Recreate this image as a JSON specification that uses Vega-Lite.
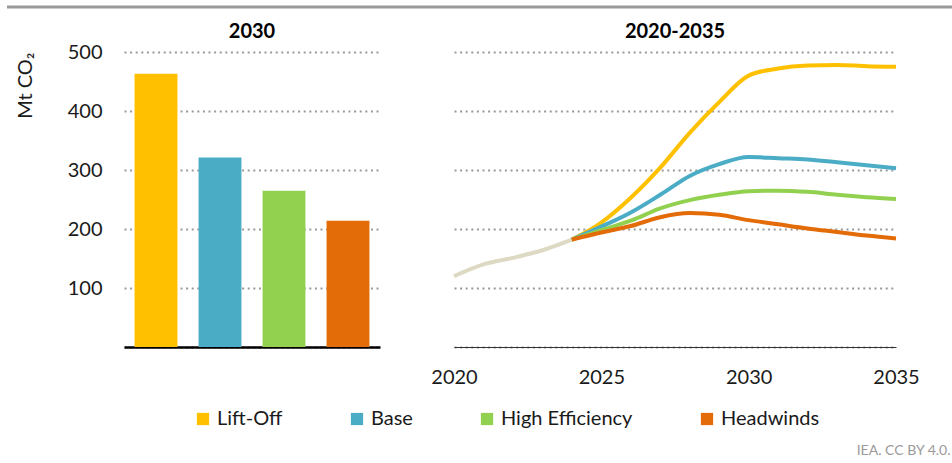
{
  "$schema": "https://vega.github.io/schema/vega-lite/v6.json",
  "padding": {"left": 5, "top": 5, "right": 0, "bottom": 5},
  "config": {
    "font": "Lato",
    "view": {"stroke": null},
    "axis": {"labelFont": "Lato", "titleFont": "Lato", "labelColor": "#1a1a1a", "titleColor": "#1a1a1a"}
  },
  "datasets": {
    "bars": [
      {"scenario": "Lift-Off", "value": 463},
      {"scenario": "Base", "value": 321},
      {"scenario": "High Efficiency", "value": 265},
      {"scenario": "Headwinds", "value": 214}
    ],
    "hist": [
      {"year": 2020, "value": 120},
      {"year": 2021, "value": 140},
      {"year": 2022, "value": 151},
      {"year": 2023, "value": 164},
      {"year": 2024, "value": 182}
    ],
    "scen": [
      {"scenario": "Lift-Off", "year": 2024, "value": 182},
      {"scenario": "Lift-Off", "year": 2025, "value": 211},
      {"scenario": "Lift-Off", "year": 2026, "value": 253},
      {"scenario": "Lift-Off", "year": 2027, "value": 304},
      {"scenario": "Lift-Off", "year": 2028, "value": 363},
      {"scenario": "Lift-Off", "year": 2029, "value": 415},
      {"scenario": "Lift-Off", "year": 2030, "value": 460},
      {"scenario": "Lift-Off", "year": 2031, "value": 472},
      {"scenario": "Lift-Off", "year": 2032, "value": 477},
      {"scenario": "Lift-Off", "year": 2033, "value": 478},
      {"scenario": "Lift-Off", "year": 2034, "value": 476},
      {"scenario": "Lift-Off", "year": 2035, "value": 475},
      {"scenario": "Base", "year": 2024, "value": 182},
      {"scenario": "Base", "year": 2025, "value": 204},
      {"scenario": "Base", "year": 2026, "value": 228},
      {"scenario": "Base", "year": 2027, "value": 258},
      {"scenario": "Base", "year": 2028, "value": 290},
      {"scenario": "Base", "year": 2029, "value": 310},
      {"scenario": "Base", "year": 2030, "value": 322},
      {"scenario": "Base", "year": 2031, "value": 320},
      {"scenario": "Base", "year": 2032, "value": 318},
      {"scenario": "Base", "year": 2033, "value": 313},
      {"scenario": "Base", "year": 2034, "value": 308},
      {"scenario": "Base", "year": 2035, "value": 303},
      {"scenario": "High Efficiency", "year": 2024, "value": 182},
      {"scenario": "High Efficiency", "year": 2025, "value": 198},
      {"scenario": "High Efficiency", "year": 2026, "value": 214},
      {"scenario": "High Efficiency", "year": 2027, "value": 235},
      {"scenario": "High Efficiency", "year": 2028, "value": 249},
      {"scenario": "High Efficiency", "year": 2029, "value": 258},
      {"scenario": "High Efficiency", "year": 2030, "value": 264},
      {"scenario": "High Efficiency", "year": 2031, "value": 265},
      {"scenario": "High Efficiency", "year": 2032, "value": 263},
      {"scenario": "High Efficiency", "year": 2033, "value": 258},
      {"scenario": "High Efficiency", "year": 2034, "value": 254},
      {"scenario": "High Efficiency", "year": 2035, "value": 251},
      {"scenario": "Headwinds", "year": 2024, "value": 182},
      {"scenario": "Headwinds", "year": 2025, "value": 194},
      {"scenario": "Headwinds", "year": 2026, "value": 205},
      {"scenario": "Headwinds", "year": 2027, "value": 220},
      {"scenario": "Headwinds", "year": 2028, "value": 227},
      {"scenario": "Headwinds", "year": 2029, "value": 224},
      {"scenario": "Headwinds", "year": 2030, "value": 215},
      {"scenario": "Headwinds", "year": 2031, "value": 208},
      {"scenario": "Headwinds", "year": 2032, "value": 201},
      {"scenario": "Headwinds", "year": 2033, "value": 195},
      {"scenario": "Headwinds", "year": 2034, "value": 189},
      {"scenario": "Headwinds", "year": 2035, "value": 184}
    ]
  },
  "title": {"text": "IEA. CC BY 4.0.", "orient": "bottom", "anchor": "end", "color": "#9a9a9a", "fontSize": 14, "fontWeight": "normal", "font": "Lato", "dx": -5, "offset": 15},
  "spacing": 13,
  "vconcat": [
    {
      "width": 830,
      "height": 1,
      "data": {"values": [{"v": 1}]},
      "mark": {"type": "rule", "color": "#999999", "strokeWidth": 3},
      "encoding": {
        "x": {"datum": -0.141, "type": "quantitative", "scale": {"domain": [0, 1]}, "axis": null},
        "x2": {"datum": 1},
        "y": {"datum": 1, "type": "quantitative", "scale": {"domain": [0, 1]}, "axis": null}
      }
    },
    {
      "spacing": 50,
      "hconcat": [
        {
          "width": 256,
          "height": 295,
          "title": {"text": "2030", "fontSize": 20, "fontWeight": "bold", "color": "#000", "font": "Lato", "offset": 0, "frame": "group"},
          "data": {"name": "bars"},
          "mark": {"type": "bar"},
          "encoding": {
            "x": {"field": "scenario", "type": "nominal", "sort": ["Lift-Off", "Base", "High Efficiency", "Headwinds"],
              "scale": {"paddingInner": 0.33, "paddingOuter": 0.165},
              "axis": {"labels": false, "ticks": false, "title": null, "domainColor": "#000", "domainWidth": 2.5}},
            "y": {"field": "value", "type": "quantitative", "scale": {"domain": [0, 500]},
              "axis": {"values": [0, 100, 200, 300, 400, 500], "labelExpr": "datum.value == 0 ? '' : datum.label",
                "title": "Mt CO₂", "titleAnchor": "end", "titleFontSize": 20, "titleFontWeight": "normal", "titlePadding": 32,
                "labelFontSize": 20, "labelPadding": 22, "ticks": false, "domain": false,
                "grid": true, "gridColor": "#999999", "gridWidth": 2, "gridDash": [2, 3.6]}},
            "color": {"field": "scenario", "type": "nominal",
              "scale": {"domain": ["Lift-Off", "Base", "High Efficiency", "Headwinds"], "range": ["#FFC000", "#4BACC6", "#92D050", "#E36C09"]},
              "legend": {"orient": "none", "direction": "horizontal", "legendX": 69, "legendY": 402, "title": null,
                "symbolType": "square", "symbolSize": 150, "symbolStrokeWidth": 0, "labelFontSize": 20, "labelFont": "Lato",
                "labelColor": "#1a1a1a", "columnPadding": 64, "labelOffset": 4}}
          }
        },
        {
          "width": 442,
          "height": 295,
          "title": {"text": "2020-2035", "fontSize": 20, "fontWeight": "bold", "color": "#000", "font": "Lato", "offset": 10, "frame": "group"},
          "encoding": {
            "x": {"field": "year", "type": "quantitative", "scale": {"domain": [2020, 2035]},
              "axis": {"values": [2020, 2025, 2030, 2035], "format": "d", "title": null, "labelFlush": false,
                "labelFontSize": 20, "labelPadding": 20, "ticks": false, "domainColor": "#333333", "domainWidth": 1.2, "grid": false}},
            "y": {"field": "value", "type": "quantitative", "scale": {"domain": [0, 500]},
              "axis": {"values": [0, 100, 200, 300, 400, 500], "labels": false, "title": null, "ticks": false, "domain": false,
                "grid": true, "gridColor": "#999999", "gridWidth": 2, "gridDash": [2, 3.6]}}
          },
          "layer": [
            {
              "data": {"name": "hist"},
              "mark": {"type": "line", "color": "#DDD9C3", "strokeWidth": 4, "interpolate": "monotone"}
            },
            {
              "data": {"name": "scen"},
              "mark": {"type": "line", "strokeWidth": 4, "interpolate": "monotone"},
              "encoding": {
                "color": {"field": "scenario", "type": "nominal", "legend": null},
                "order": {"field": "year"}
              }
            }
          ]
        }
      ]
    }
  ]
}
